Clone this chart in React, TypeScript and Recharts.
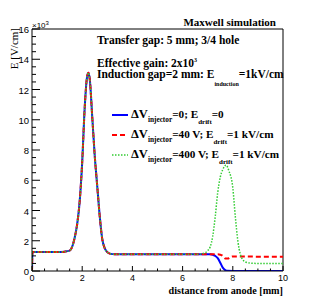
import React from 'react';
import { LineChart, Line, XAxis, YAxis, ReferenceLine } from 'recharts';

// Shared profile (distance in mm, field in 10^3 V/cm)
const commonX = [0, 0.02, 0.5, 1.0, 1.3, 1.5, 1.6, 1.7, 1.8, 1.9, 2.0, 2.1, 2.2, 2.25, 2.3, 2.4, 2.5, 2.6, 2.7, 2.8, 2.9, 3.0, 3.1, 3.3, 4.0, 5.0, 6.0, 6.5];
const commonE = [0, 1.25, 1.25, 1.25, 1.28, 1.35, 1.6, 2.2, 3.1, 4.6, 7.2, 10.8, 12.9, 13.1, 12.7, 10.2, 7.6, 5.6, 3.6, 2.1, 1.5, 1.25, 1.15, 1.1, 1.1, 1.1, 1.1, 1.1];

const blueTailX = [7.0, 7.1, 7.2, 7.3, 7.4, 7.5, 7.6, 7.7, 7.8, 8.0, 9.0, 10.0];
const blueTailE = [1.1, 1.1, 1.08, 1.0, 0.85, 0.55, 0.22, 0.06, 0.01, 0, 0, 0];

const redTailX = [7.0, 7.4, 7.5, 7.6, 7.7, 7.8, 7.9, 8.0, 8.2, 9.0, 10.0];
const redTailE = [1.1, 1.1, 1.08, 1.0, 0.83, 0.82, 0.92, 0.96, 0.96, 0.95, 0.95];

const greenTailX = [6.8, 7.0, 7.1, 7.2, 7.3, 7.4, 7.5, 7.6, 7.73, 7.85, 8.0, 8.1, 8.2, 8.3, 8.4, 8.5, 8.7, 9.0, 10.0];
const greenTailE = [1.15, 1.35, 1.6, 2.3, 3.6, 5.2, 6.2, 6.7, 7.0, 6.6, 5.5, 3.6, 2.0, 1.1, 0.75, 0.6, 0.52, 0.5, 0.5];

const xTicks = [0, 0.5, 1, 1.5, 2, 2.5, 3, 3.5, 4, 4.5, 5, 5.5, 6, 6.5, 7, 7.5, 8, 8.5, 9, 9.5, 10];
const xLabels = [0, 2, 4, 6, 8, 10];
const yTicks = [0, 0.5, 1, 1.5, 2, 2.5, 3, 3.5, 4, 4.5, 5, 5.5, 6, 6.5, 7, 7.5, 8, 8.5, 9, 9.5, 10, 10.5, 11, 11.5, 12, 12.5, 13, 13.5, 14, 14.5, 15, 15.5, 16];
const yLabels = [0, 2, 4, 6, 8, 10, 12, 14, 16];

const build = (xs: number[], es: number[]) => xs.map((x, i) => ({ x, e: es[i] }));
const blueData = build(commonX.concat(blueTailX), commonE.concat(blueTailE));
const redData = build(commonX.concat(redTailX), commonE.concat(redTailE));
const greenData = build(commonX.concat(greenTailX), commonE.concat(greenTailE));

const SANS = 'Liberation Sans, Arial, sans-serif';
const SERIF = 'Liberation Serif, Times New Roman, serif';

const YTick = (props: any) => {
  const { x, y, payload } = props;
  const v = payload.value;
  const major = yLabels.includes(v);
  return (
    <g>
      <line x1={x} x2={x + (major ? 8 : 4)} y1={y} y2={y} stroke="#000" strokeWidth={1} />
      {major && (
        <text x={x - 3} y={y + 4} textAnchor="end" fontSize={9.5} fontFamily={SANS} fill="#000">
          {v}
        </text>
      )}
    </g>
  );
};

const XTick = (props: any) => {
  const { x, y, payload } = props;
  const v = payload.value;
  const major = xLabels.includes(v);
  return (
    <g>
      <line x1={x} x2={x} y1={y} y2={y - (major ? 5 : 2.5)} stroke="#000" strokeWidth={1} />
      {major && (
        <text x={x} y={y + 10} textAnchor="middle" fontSize={9} fontFamily={SANS} fill="#000">
          {v}
        </text>
      )}
    </g>
  );
};

const legendRows = [
  { color: '#0000ff', dash: undefined as string | undefined, w: 2, pre: '=0; E', post: '=0' },
  { color: '#ff0000', dash: '5 3', w: 2, pre: '=40 V; E', post: '=1 kV/cm' },
  { color: '#33cc33', dash: '1.5 1.5', w: 1.5, pre: '=400 V; E', post: '=1 kV/cm' },
];
const legendY = [115, 135, 155];

export default function App() {
  return (
    <div style={{ position: 'absolute', left: 0, top: 0, width: 315, height: 302, background: '#fff' }}>
      <LineChart width={315} height={302} margin={{ top: 29, right: 32, left: 2, bottom: 6 }}>
        <XAxis
          type="number"
          dataKey="x"
          domain={[0, 10]}
          ticks={xTicks}
          interval={0}
          tickSize={0}
          tickMargin={0}
          tickLine={false}
          tick={<XTick />}
          height={25}
          axisLine={{ stroke: '#000' }}
          allowDataOverflow
        />
        <YAxis
          type="number"
          dataKey="e"
          domain={[0, 16]}
          ticks={yTicks}
          interval={0}
          tickSize={0}
          tickMargin={0}
          tickLine={false}
          tick={<YTick />}
          width={30}
          axisLine={{ stroke: '#000' }}
          allowDataOverflow
        />
        <ReferenceLine y={16} stroke="#000" strokeWidth={1} />
        <ReferenceLine x={10} stroke="#000" strokeWidth={1} />
        <Line data={blueData} dataKey="e" type="monotone" stroke="#0000ff" strokeWidth={2} dot={false} isAnimationActive={false} />
        <Line data={redData} dataKey="e" type="monotone" stroke="#ff0000" strokeWidth={2} strokeDasharray="5 3" dot={false} isAnimationActive={false} />
        <Line data={greenData} dataKey="e" type="monotone" stroke="#33cc33" strokeWidth={1.5} strokeDasharray="1.5 1.5" dot={false} isAnimationActive={false} />
      </LineChart>
      <svg width={315} height={302} style={{ position: 'absolute', left: 0, top: 0, pointerEvents: 'none' }}>
        <text x={276} y={26} textAnchor="end" fontFamily={SERIF} fontWeight="bold" fontSize={11}>Maxwell simulation</text>
        <text x={32} y={28} fontFamily={SANS} fontSize={8}>
          ×10<tspan dy={-3} fontSize={6}>3</tspan>
        </text>
        <text transform="translate(18,28) rotate(-90)" textAnchor="end" fontFamily={SERIF} fontSize={11}>E [V/cm]</text>
        <text x={283} y={294} textAnchor="end" fontFamily={SERIF} fontWeight="bold" fontSize={10.2}>distance from anode [mm]</text>
        <text x={97} y={44} fontFamily={SERIF} fontWeight="bold" fontSize={11.5}>Transfer gap: 5 mm; 3/4 hole</text>
        <text x={97} y={67} fontFamily={SERIF} fontWeight="bold" fontSize={11.5}>
          Effective gain: 2x10<tspan dy={-5} fontSize={6}>3</tspan>
        </text>
        <text x={97} y={78} fontFamily={SERIF} fontWeight="bold" fontSize={11.5}>
          Induction gap=2 mm: E<tspan dy={8} fontSize={6}>induction</tspan><tspan dy={-8}>=1kV/cm</tspan>
        </text>
        {legendRows.map((r, i) => (
          <g key={i}>
            <line x1={112} x2={128} y1={legendY[i]} y2={legendY[i]} stroke={r.color} strokeWidth={r.w} strokeDasharray={r.dash} />
            <text x={131} y={legendY[i] + 3} fontFamily={SERIF} fontWeight="bold" fontSize={11.2}>
              <tspan fontSize={12.5}>ΔV</tspan>
              <tspan dy={4} fontSize={7.3}>injector</tspan>
              <tspan dy={-4}>{r.pre}</tspan>
              <tspan dy={6} fontSize={7}>drift</tspan>
              <tspan dy={-6}>{r.post}</tspan>
            </text>
          </g>
        ))}
      </svg>
    </div>
  );
}
